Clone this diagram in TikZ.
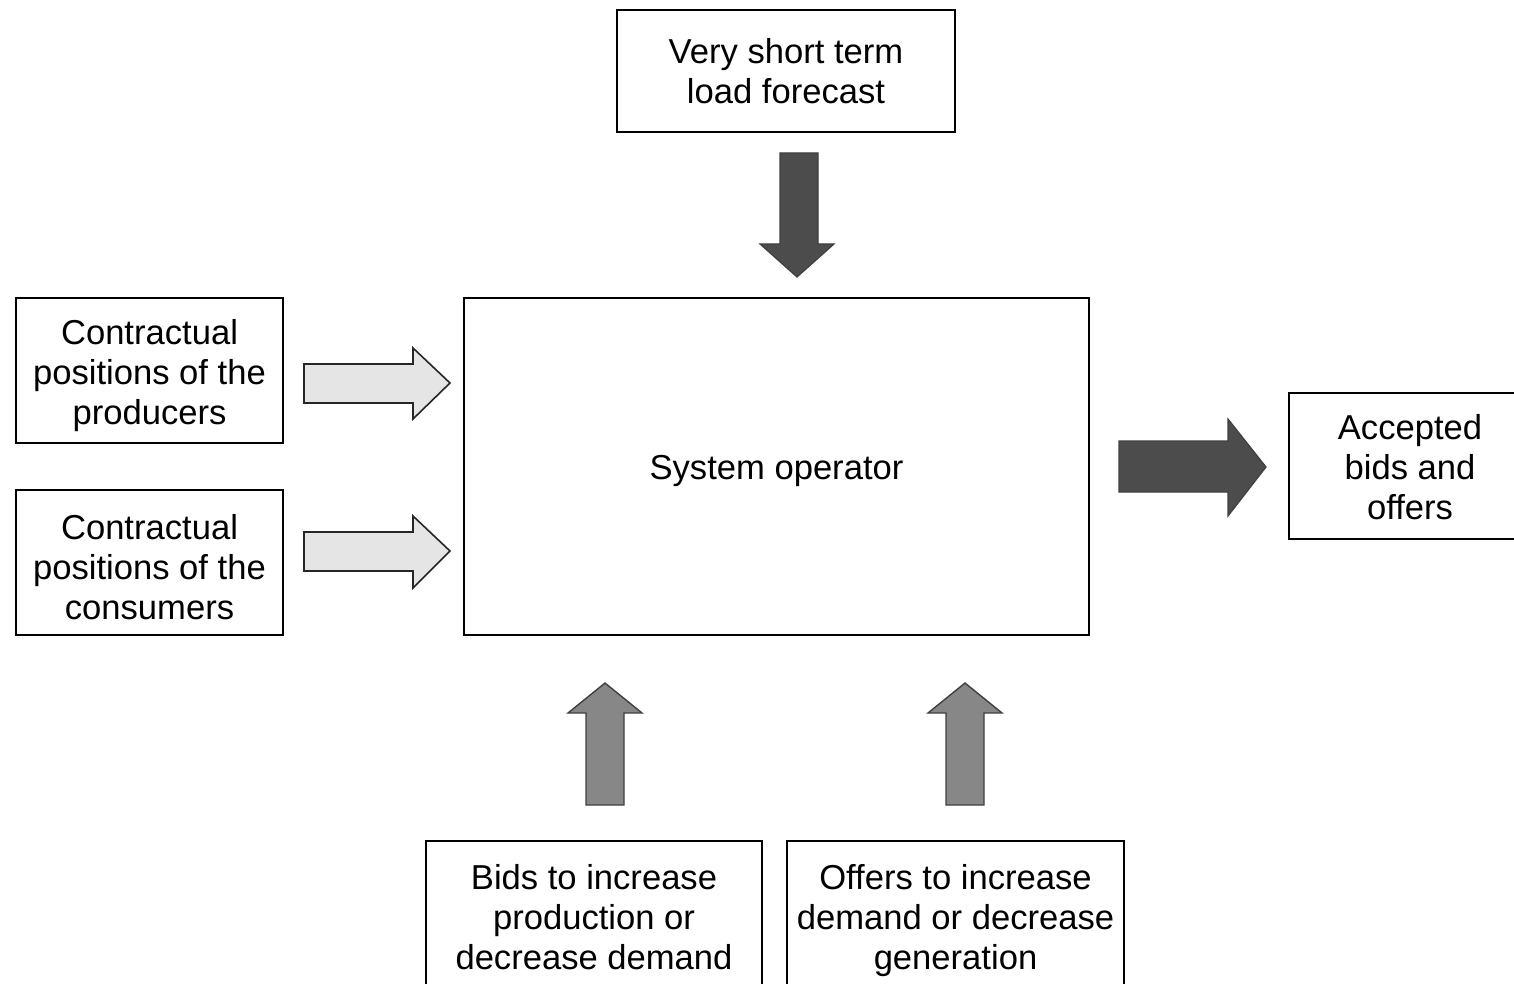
\documentclass[tikz,border=0pt]{standalone}
\usepackage{fontspec}
\setmainfont{Liberation Sans}
\begin{document}
\begin{tikzpicture}[x=0.5pt,y=-0.5pt,
  box/.style={draw=black, line width=1.2pt, rectangle, inner sep=0pt},
  txt/.style={inner sep=0pt, align=center, font=\fontsize{17.3}{20}\selectfont},
  lightarrow/.style={fill=black!10, draw=black!85, line width=0.8pt, line join=miter},
  darkarrow/.style={fill=black!70, draw=black!75, line width=0.6pt},
  midarrow/.style={fill=black!47, draw=black!75, line width=0.7pt}]
\clip (0,0) rectangle (1514,984);
\fill[white] (0,0) rectangle (1514,984);

% boxes
\node[box, minimum width=169pt, minimum height=61pt] (vstlf) at (786,71) {};
\node[box, minimum width=133.5pt, minimum height=72.5pt] (prod) at (149.5,370.5) {};
\node[box, minimum width=133.5pt, minimum height=72.5pt] (cons) at (149.5,562.5) {};
\node[box, minimum width=312.5pt, minimum height=168.5pt] (so) at (776.5,466.5) {};
\node[box, minimum width=121pt, minimum height=73pt] (acc) at (1410,466) {};
\node[box, minimum width=168pt, minimum height=76pt] (bids) at (594,917) {};
\node[box, minimum width=168.5pt, minimum height=76pt] (offers) at (955.5,917) {};

% texts
\node[txt] (vstlf-t) at (vstlf.center) {Very short term\\load forecast};
\node[txt] (prod-t) at ([yshift=-2.5pt]prod.center) {Contractual\\positions of the\\producers};
\node[txt] (cons-t) at ([yshift=-2.5pt]cons.center) {Contractual\\positions of the\\consumers};
\node[txt] (so-t) at ([yshift=-2.5pt]so.center) {System operator};
\node[txt] (acc-t) at ([yshift=-0.7pt]acc.center) {Accepted\\bids and\\offers};
\node[txt] (bids-t) at (bids.center) {Bids to increase\\production or\\decrease demand};
\node[txt] (offers-t) at ([yshift=-2pt]offers.center) {Offers to increase\\demand or decrease\\generation};

% block arrows
\filldraw[darkarrow] (780,153) -- (818,153) -- (818,244) -- (834,244) -- (797,277)
  -- (760,244) -- (780,244) -- cycle;
\filldraw[lightarrow] (304,364) -- (413,364) -- (413,348) -- (450,383) -- (413,419)
  -- (413,403) -- (304,403) -- cycle;
\filldraw[lightarrow] (304,532) -- (413,532) -- (413,516) -- (450,551) -- (413,588)
  -- (413,571) -- (304,571) -- cycle;
\filldraw[darkarrow] (1119,441) -- (1228,441) -- (1228,419) -- (1266,467) -- (1228,516)
  -- (1228,492) -- (1119,492) -- cycle;
\filldraw[midarrow] (586,805) -- (586,713) -- (568,713) -- (605,683) -- (642,713)
  -- (624,713) -- (624,805) -- cycle;
\filldraw[midarrow] (946,805) -- (946,713) -- (928,713) -- (965,683) -- (1002,713)
  -- (984,713) -- (984,805) -- cycle;
\end{tikzpicture}
\end{document}
